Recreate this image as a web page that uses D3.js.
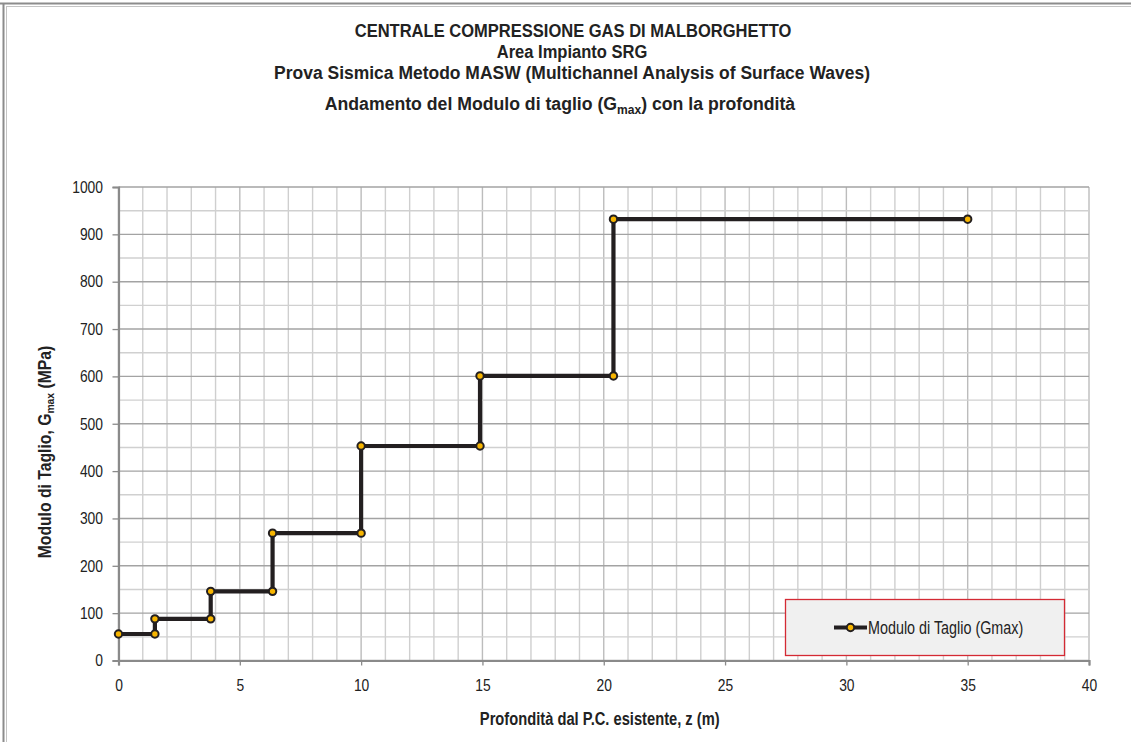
<!DOCTYPE html>
<html>
<head>
<meta charset="utf-8">
<script src="https://cdn.jsdelivr.net/npm/d3@7"></script>
<style>
  html, body { margin: 0; padding: 0; background: #ffffff; }
  svg { display: block; }
  text { font-family: 'Liberation Sans Narrow', 'Arial Narrow', 'Liberation Sans', Arial, sans-serif; fill: #222; }
</style>
</head>
<body>
<script>
// ---------- data ----------
const depth = [0, 1.5, 1.5, 3.8, 3.8, 6.35, 6.35, 10, 10, 14.9, 14.9, 20.4, 20.4, 35];
const gmax  = [56, 56, 88, 88, 146, 146, 269, 269, 453, 453, 601, 601, 932, 932];
const xTicks = [0, 5, 10, 15, 20, 25, 30, 35, 40];
const yTicks = [0, 100, 200, 300, 400, 500, 600, 700, 800, 900, 1000];
const titleLines = [
  "CENTRALE COMPRESSIONE GAS DI MALBORGHETTO",
  "Area Impianto SRG",
  "Prova Sismica Metodo MASW (Multichannel Analysis of Surface Waves)"
];
const subtitleParts = ["Andamento del Modulo di taglio (G", "max", ") con la profondità"];
const xTitle = "Profondità dal P.C. esistente, z (m)";
const yTitleParts = ["Modulo di Taglio, G", "max", " (MPa)"];
const legendLabel = "Modulo di Taglio (Gmax)";

// ---------- layout ----------
const W = 1131, H = 742;
const NARROW = 0.84;   // horizontal condensing to mimic a narrow typeface
const svg = d3.select("body").append("svg").attr("width", W).attr("height", H);

// outer frame (double grey line top & left)
svg.append("line").attr("x1", 0).attr("x2", W).attr("y1", 3.5).attr("y2", 3.5).attr("stroke", "#8c8c8c").attr("stroke-width", 2);
svg.append("line").attr("x1", 7).attr("x2", W).attr("y1", 6.5).attr("y2", 6.5).attr("stroke", "#c4c4c4").attr("stroke-width", 1);
svg.append("line").attr("x1", 3.5).attr("x2", 3.5).attr("y1", 3).attr("y2", H).attr("stroke", "#8c8c8c").attr("stroke-width", 2);
svg.append("line").attr("x1", 6.5).attr("x2", 6.5).attr("y1", 6).attr("y2", H).attr("stroke", "#c4c4c4").attr("stroke-width", 1);

const x = d3.scaleLinear().domain([0, 40]).range([118.5, 1089]);
const y = d3.scaleLinear().domain([0, 1000]).range([660.5, 187]);

// grid
const grid = svg.append("g");
grid.selectAll(".vx").data(d3.range(0, 41, 1)).join("line")
  .attr("x1", d => x(d)).attr("x2", d => x(d))
  .attr("y1", y(1000)).attr("y2", y(0))
  .attr("stroke", d => d % 5 === 0 ? "#bcbcbc" : "#cfcfcf").attr("stroke-width", 1.4);
grid.selectAll(".hy").data(d3.range(0, 1001, 50)).join("line")
  .attr("x1", x(0)).attr("x2", x(40))
  .attr("y1", d => y(d)).attr("y2", d => y(d))
  .attr("stroke", d => d % 100 === 0 ? "#a3a3a3" : "#d0d0d0").attr("stroke-width", 1.4);

// axes
const fontTick = 16.5;
const xAxis = svg.append("g").attr("transform", `translate(0,${y(0)})`)
  .call(d3.axisBottom(x).tickValues(xTicks).tickSize(5).tickPadding(14).tickFormat(d3.format("d")));
const yAxis = svg.append("g").attr("transform", `translate(${x(0)},0)`)
  .call(d3.axisLeft(y).tickValues(yTicks).tickSize(6).tickPadding(9).tickFormat(d3.format("d")));
[xAxis, yAxis].forEach(a => {
  a.select(".domain").attr("stroke", "#8a8a8a").attr("stroke-width", 2.2);
  a.selectAll(".tick line").attr("stroke", "#8a8a8a").attr("stroke-width", 1.3);
  a.selectAll(".tick text").attr("font-size", fontTick)
    .style("font-family", "'Liberation Sans Narrow', 'Arial Narrow', 'Liberation Sans', Arial, sans-serif")
    .attr("fill", "#222");
});
xAxis.selectAll(".tick text").attr("transform", `scale(${NARROW},1)`);
yAxis.selectAll(".tick text").attr("x", -15.5 / NARROW).attr("transform", `scale(${NARROW},1)`);

// series
const pts = depth.map((d, i) => [d, gmax[i]]);
const line = d3.line().x(d => x(d[0])).y(d => y(d[1]));
svg.append("path").datum(pts).attr("d", line)
  .attr("fill", "none").attr("stroke", "#231f20").attr("stroke-width", 4.2)
  .attr("stroke-linejoin", "miter").attr("stroke-linecap", "butt");
svg.selectAll(".pt").data(pts).join("circle")
  .attr("cx", d => x(d[0])).attr("cy", d => y(d[1])).attr("r", 3.7)
  .attr("fill", "#f7b500").attr("stroke", "#231f20").attr("stroke-width", 2);

// helper: narrow text placed at (px,py)
function ntext(px, py, sx, size, bold, anchor) {
  return svg.append("text")
    .attr("transform", `translate(${px},${py}) scale(${sx},1)`)
    .attr("text-anchor", anchor || "middle")
    .attr("font-size", size).attr("font-weight", bold ? "bold" : "normal");
}

// titles
const tBase = [37, 58, 79];
const tScale = [0.87, 0.87, 0.92];
const tCx = [573, 572, 572];
titleLines.forEach((t, i) => {
  ntext(tCx[i], tBase[i], tScale[i], 19, true).text(t);
});
const sub = ntext(560, 110, 0.93, 19, true);
sub.append("tspan").text(subtitleParts[0]);
sub.append("tspan").attr("font-size", 13).attr("dy", 4).text(subtitleParts[1]);
sub.append("tspan").attr("dy", -4).text(subtitleParts[2]);

// axis titles
ntext((x(0) + x(40)) / 2 - 4, 725, NARROW, 17.5, true).text(xTitle);
const yt = svg.append("text").attr("transform", `translate(51,452) rotate(-90) scale(0.9,1)`)
  .attr("text-anchor", "middle").attr("font-size", 17.5).attr("font-weight", "bold");
yt.append("tspan").text(yTitleParts[0]);
yt.append("tspan").attr("font-size", 11.5).attr("dy", 3).text(yTitleParts[1]);
yt.append("tspan").attr("dy", -3).text(yTitleParts[2]);

// legend
const lg = svg.append("g");
lg.append("rect").attr("x", 785.5).attr("y", 599.5).attr("width", 279).attr("height", 56)
  .attr("fill", "#f0f0f0").attr("stroke", "#d42a34").attr("stroke-width", 1.3);
lg.append("line").attr("x1", 834).attr("x2", 867).attr("y1", 627.5).attr("y2", 627.5)
  .attr("stroke", "#231f20").attr("stroke-width", 4.2);
lg.append("circle").attr("cx", 850.5).attr("cy", 627.5).attr("r", 3.7)
  .attr("fill", "#f7b500").attr("stroke", "#231f20").attr("stroke-width", 2);
ntext(868, 634, 0.82, 17.5, false, "start").text(legendLabel);
</script>
</body>
</html>
